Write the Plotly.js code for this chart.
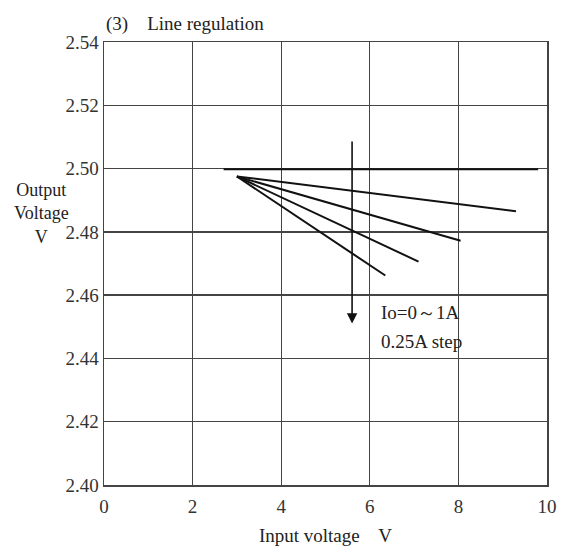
<!DOCTYPE html>
<html><head><meta charset="utf-8">
<script src="https://cdn.plot.ly/plotly-3.0.1.min.js"></script>
<style>body{margin:0;background:#fff}#c{width:573px;height:550px}</style>
</head><body><div id="c"></div>
<script>
// Io = 0, 0.25, 0.5, 0.75, 1 A
const seriesNames = ["Io=0A", "Io=0.25A", "Io=0.5A", "Io=0.75A", "Io=1A"];
const vinStart = [2.7, 3.0, 3.0, 3.0, 3.0];
const vinEnd   = [9.8, 9.3, 8.05, 7.1, 6.35];
const voutStart = [2.4998, 2.4975, 2.4975, 2.4975, 2.4975];
const voutEnd   = [2.4998, 2.4865, 2.4772, 2.4706, 2.4662];
const xTicks = [0, 2, 4, 6, 8, 10];
const yTicks = [2.40, 2.42, 2.44, 2.46, 2.48, 2.50, 2.52, 2.54];
const yTickText = ["2.40", "2.42", "2.44", "2.46", "2.48", "2.50", "2.52", "2.54"];
const arrowX = 5.6, arrowTop = 2.509, arrowTip = 2.451;

const serif = "Liberation Serif, Times New Roman, serif";
const traces = seriesNames.map((n, i) => ({
  type: "scatter", mode: "lines", name: n,
  x: [vinStart[i], vinEnd[i]], y: [voutStart[i], voutEnd[i]],
  line: {color: "#111", width: 2}, showlegend: false, hoverinfo: "skip"
}));

const layout = {
  width: 573, height: 550,
  margin: {l: 104, r: 26, t: 42, b: 65},
  paper_bgcolor: "#fff", plot_bgcolor: "#fff",
  font: {family: serif, color: "#222", size: 19},
  showlegend: false,
  xaxis: {range: [0, 10], tickvals: xTicks, ticktext: xTicks.map(String),
    showgrid: true, gridcolor: "#444", gridwidth: 1.3, zeroline: false,
    showline: true, linecolor: "#444", linewidth: 1.5, mirror: true,
    ticks: "", ticklabelstandoff: 4, tickfont: {family: serif, size: 19, color: "#333"},
    title: {text: "Input voltage    V", font: {family: serif, size: 19, color: "#222"}, standoff: 12}},
  yaxis: {range: [2.40, 2.54], tickvals: yTicks, ticktext: yTickText,
    showgrid: true, gridcolor: "#444", gridwidth: 1.3, zeroline: false,
    showline: true, linecolor: "#444", linewidth: 1.5, mirror: true,
    ticks: "", ticklabelstandoff: 0, tickfont: {family: serif, size: 19, color: "#333"}},
  annotations: [
    {xref: "paper", yref: "paper", x: -0.0, y: 1.0, xanchor: "left", yanchor: "bottom",
     text: "(3)    Line regulation", showarrow: false, yshift: 5,
     font: {family: serif, size: 19, color: "#222"}},
    {xref: "paper", yref: "paper", x: -0.14, y: 0.612, xanchor: "center", yanchor: "middle",
     text: "Output<br>Voltage<br>V", showarrow: false, align: "center",
     font: {family: serif, size: 18, color: "#222"}},
    {x: arrowX, y: arrowTip, ax: arrowX, ay: arrowTop, xref: "x", yref: "y", axref: "x", ayref: "y",
     showarrow: true, arrowhead: 2, arrowsize: 1.3, arrowwidth: 1.6, arrowcolor: "#111", text: ""},
    {x: 6.2, y: 2.4545, xref: "x", yref: "y", xanchor: "left", yanchor: "middle",
     text: "Io=0～1A", showarrow: false, font: {family: serif, size: 19, color: "#222"}},
    {x: 6.2, y: 2.4452, xref: "x", yref: "y", xanchor: "left", yanchor: "middle",
     text: "0.25A step", showarrow: false, font: {family: serif, size: 19, color: "#222"}}
  ]
};
Plotly.newPlot("c", traces, layout, {staticPlot: true, displayModeBar: false});
</script></body></html>
